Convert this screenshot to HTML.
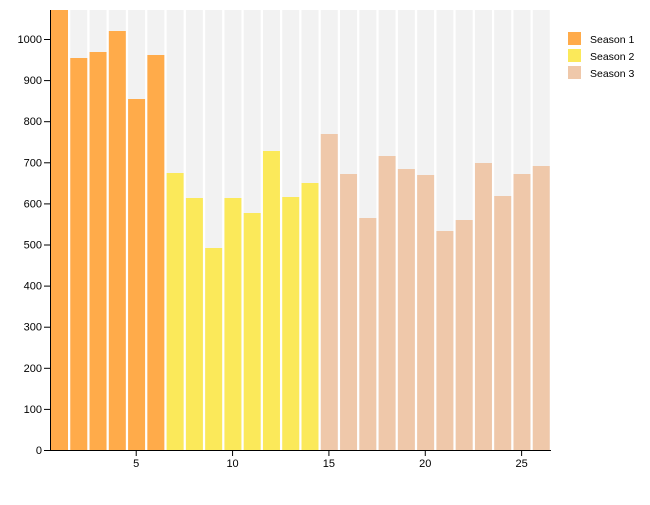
<!DOCTYPE html>
<html><head><meta charset="utf-8"><style>
body{margin:0;background:#fff;width:650px;height:500px;overflow:hidden}
text{font-family:"Liberation Sans",sans-serif;font-size:11px;fill:#000}
.lg{font-size:10.5px}
</style></head><body>
<svg width="650" height="500" xmlns="http://www.w3.org/2000/svg">
<g id="bars"></g>
<line x1="50.5" y1="10" x2="50.5" y2="450" stroke="#000"/>
<line x1="50" y1="450.5" x2="551" y2="450.5" stroke="#000"/>
<g id="ax"></g>
<rect x="568" y="32" width="13" height="13" fill="#ffab4a"/>
<rect x="568" y="49" width="13" height="13" fill="#fbe95a"/>
<rect x="568" y="66" width="13" height="13" fill="#efc8aa"/>
<text class="lg" x="590" y="43">Season 1</text>
<text class="lg" x="590" y="60">Season 2</text>
<text class="lg" x="590" y="77">Season 3</text>
</svg>
<script>
var tops=[10,58,52,31,99,55,173,198,248,198,213,151,197,183,134,174,218,156,169,175,231,220,163,196,174,166];
var ns="http://www.w3.org/2000/svg",g=document.getElementById('bars'),a=document.getElementById('ax');
function el(p,t,o){var e=document.createElementNS(ns,t);for(var k in o)e.setAttribute(k,o[k]);p.appendChild(e);return e;}
for(var i=0;i<26;i++){var x=50+i*19.27+1;
el(g,'rect',{x:x,y:10,width:17,height:440,fill:'#f2f2f2'});
var c=i<6?'#ffab4a':i<14?'#fbe95a':'#efc8aa';
el(g,'rect',{x:x,y:tops[i],width:17,height:450-tops[i],fill:c});}
for(var v=0;v<=1000;v+=100){var y=450-v*0.411;
el(a,'line',{x1:44,x2:50,y1:y+0.5,y2:y+0.5,stroke:'#000'});
var t=el(a,'text',{x:42,y:y+4,'text-anchor':'end'});t.textContent=v;}
[5,10,15,20,25].forEach(function(n){var x=50+(n-0.5)*19.27-0.5;
el(a,'line',{x1:x,x2:x,y1:450,y2:456,stroke:'#000'});
var t=el(a,'text',{x:x,y:467,'text-anchor':'middle'});t.textContent=n;});
</script>
</body></html>
